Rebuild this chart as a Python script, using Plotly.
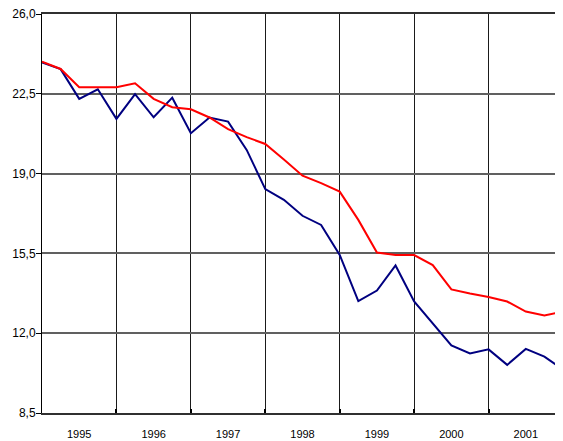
import plotly.graph_objects as go

# Quarterly observations, Q1 1995 .. Q1 2002 (29 points)
quarters = list(range(29))
series_blue = [23.87, 23.58, 22.28, 22.70, 21.40, 22.49, 21.47, 22.33, 20.77,
               21.46, 21.28, 20.04, 18.32, 17.85, 17.15, 16.75, 15.43, 13.41,
               13.87, 14.97, 13.39, 12.43, 11.46, 11.11, 11.29, 10.61, 11.31,
               10.97, 10.40]
series_red = [23.91, 23.59, 22.79, 22.79, 22.79, 22.96, 22.28, 21.91, 21.82,
              21.46, 20.95, 20.60, 20.30, 19.62, 18.91, 18.58, 18.21, 16.97,
              15.54, 15.43, 15.43, 14.99, 13.92, 13.74, 13.59, 13.39, 12.95,
              12.78, 12.95]

year_labels = ["1995", "1996", "1997", "1998", "1999", "2000", "2001"]
year_centers = [2, 6, 10, 14, 18, 22, 26]
year_bounds = [0, 4, 8, 12, 16, 20, 24, 28]
y_ticks = [8.5, 12.0, 15.5, 19.0, 22.5, 26.0]
y_ticktext = ["8,5", "12,0", "15,5", "19,0", "22,5", "26,0"]

fig = go.Figure()
fig.add_trace(go.Scatter(x=quarters, y=series_blue, mode="lines",
                         line=dict(color="#000080", width=2), name="Series 1"))
fig.add_trace(go.Scatter(x=quarters, y=series_red, mode="lines",
                         line=dict(color="#FF0000", width=2), name="Series 2"))
# invisible trace to activate the label axis
fig.add_trace(go.Scatter(x=[0], y=[8.5], xaxis="x2", mode="markers",
                         marker=dict(opacity=0), showlegend=False, hoverinfo="skip"))

fig.update_layout(
    width=555, height=433,
    margin=dict(l=34, r=0, t=6, b=28, autoexpand=False),
    paper_bgcolor="white", plot_bgcolor="white",
    showlegend=False,
    font=dict(family="Liberation Sans, Arial, sans-serif", color="black", size=11),
    xaxis=dict(range=[0, 28], tickvals=year_bounds, showticklabels=False,
               showgrid=True, gridcolor="#1a1a1a", gridwidth=1,
               showline=True, linecolor="#303030", linewidth=1.5, mirror=True,
               ticks="inside", ticklen=4, tickwidth=2, tickcolor="black",
               zeroline=False, ticklabeloverflow="allow"),
    xaxis2=dict(range=[0, 28], overlaying="x", anchor="y", side="bottom",
                tickvals=year_centers, ticktext=year_labels,
                showgrid=False, showline=False, zeroline=False, ticks="",
                tickfont=dict(size=11), ticklabelstandoff=13,
                ticklabeloverflow="allow"),
    yaxis=dict(range=[8.5, 26.0], tickvals=y_ticks, ticktext=y_ticktext,
               showgrid=True, gridcolor="#606060", gridwidth=1.5,
               showline=True, linecolor="black", linewidth=1,
               ticks="outside", ticklen=5, tickcolor="black",
               tickfont=dict(size=12), ticklabelstandoff=-2, zeroline=False,
               ticklabeloverflow="allow"),
)

fig.write_html("out.html")
